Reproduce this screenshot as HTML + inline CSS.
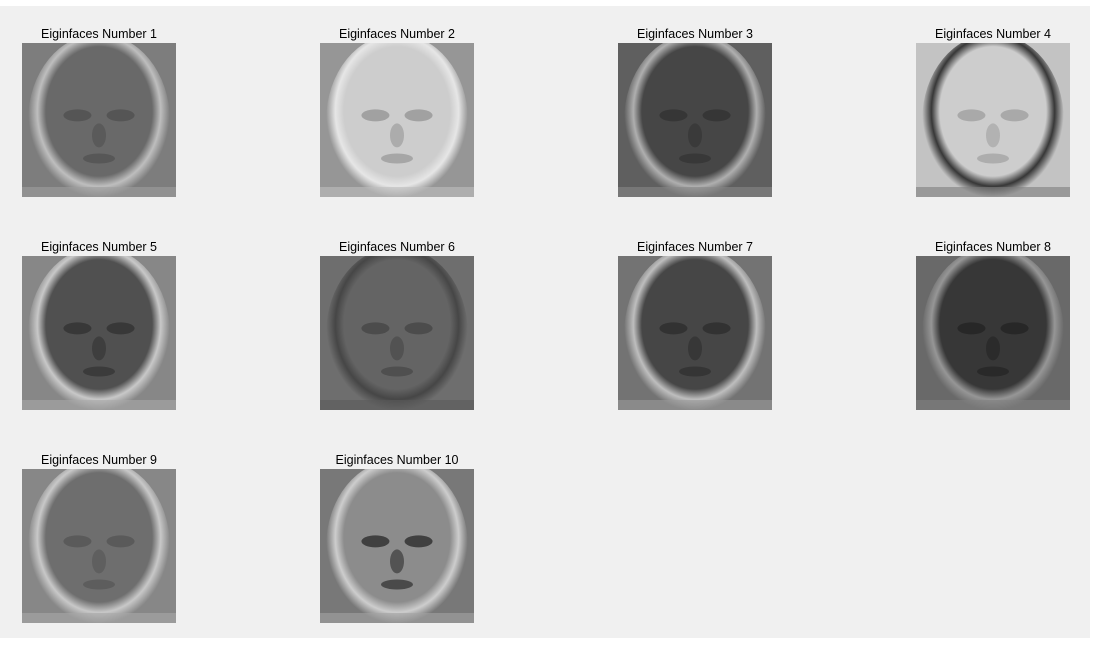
<!DOCTYPE html>
<html><head><meta charset="utf-8"><style>
html,body{margin:0;padding:0;background:#fff;}
svg{display:block;font-family:"Liberation Sans",sans-serif;}
</style></head><body>
<svg id="fig" width="1098" height="645">
<rect x="0" y="6" width="1090" height="632" fill="#f0f0f0"/>
</svg>
<script>
const titles=["Eiginfaces Number 1","Eiginfaces Number 2","Eiginfaces Number 3","Eiginfaces Number 4","Eiginfaces Number 5","Eiginfaces Number 6","Eiginfaces Number 7","Eiginfaces Number 8","Eiginfaces Number 9","Eiginfaces Number 10"];
const bgTone=[125,150,95,195,135,110,115,105,135,120];
const faceTone=[105,205,70,205,80,100,70,55,110,140];
const haloTone=[190,230,175,55,200,70,190,150,200,205];
const featTone=[80,150,50,160,50,70,45,35,85,45];
const NS="http://www.w3.org/2000/svg";
const svg=document.getElementById('fig');
const colX=[22,320,618,916], rowY=[43,256,469], W=154,H=154;
const defs=document.createElementNS(NS,'defs');svg.appendChild(defs);
function g(v){return `rgb(${v},${v},${v})`;}
function mk(tag,attrs,parent){const el=document.createElementNS(NS,tag);for(const k in attrs)el.setAttribute(k,attrs[k]);parent.appendChild(el);return el;}
titles.forEach((t,i)=>{
  const x=colX[i%4], y=rowY[Math.floor(i/4)];
  const grp=document.createElementNS(NS,'g');
  
  
  const cp=mk('clipPath',{id:'cp'+i},defs);
  mk('rect',{x:x,y:y,width:W,height:H},cp);
  const gr=mk('radialGradient',{id:'gf'+i,cx:'0.5',cy:'0.45',r:'0.5'},defs);
  gr.innerHTML=`<stop offset="0" stop-color="${g(faceTone[i])}"/><stop offset="0.75" stop-color="${g(faceTone[i])}"/><stop offset="0.87" stop-color="${g(haloTone[i])}"/><stop offset="1" stop-color="${g(bgTone[i])}"/>`;
  const img=mk('g',{'clip-path':`url(#cp${i})`},grp);
  const bg=mk('rect',{x:x,y:y,width:W,height:H,fill:g(bgTone[i])},img);
  
  
  const e=mk('ellipse',{cx:x+W/2,cy:y+H*0.5,rx:W*0.46,ry:H*0.56,fill:`url(#gf${i})`},img);
  
  
  const f=g(featTone[i]);
  mk('ellipse',{cx:x+W*0.36,cy:y+H*0.47,rx:14,ry:6,fill:f,opacity:0.8},img);
  mk('ellipse',{cx:x+W*0.64,cy:y+H*0.47,rx:14,ry:6,fill:f,opacity:0.8},img);
  mk('ellipse',{cx:x+W*0.5,cy:y+H*0.6,rx:7,ry:12,fill:f,opacity:0.6},img);
  mk('ellipse',{cx:x+W*0.5,cy:y+H*0.75,rx:16,ry:5,fill:f,opacity:0.7},img);
  mk('rect',{x:x,y:y+H-10,width:W,height:10,fill:g(Math.round((bgTone[i]+haloTone[i])/2)),opacity:0.6},img);
  const tx=mk('text',{x:x+W/2,y:y-5,'text-anchor':'middle','font-size':'12.5',fill:'#000'},grp);
  tx.textContent=t;
  
  
  svg.appendChild(grp);
});
</script>
</body></html>
